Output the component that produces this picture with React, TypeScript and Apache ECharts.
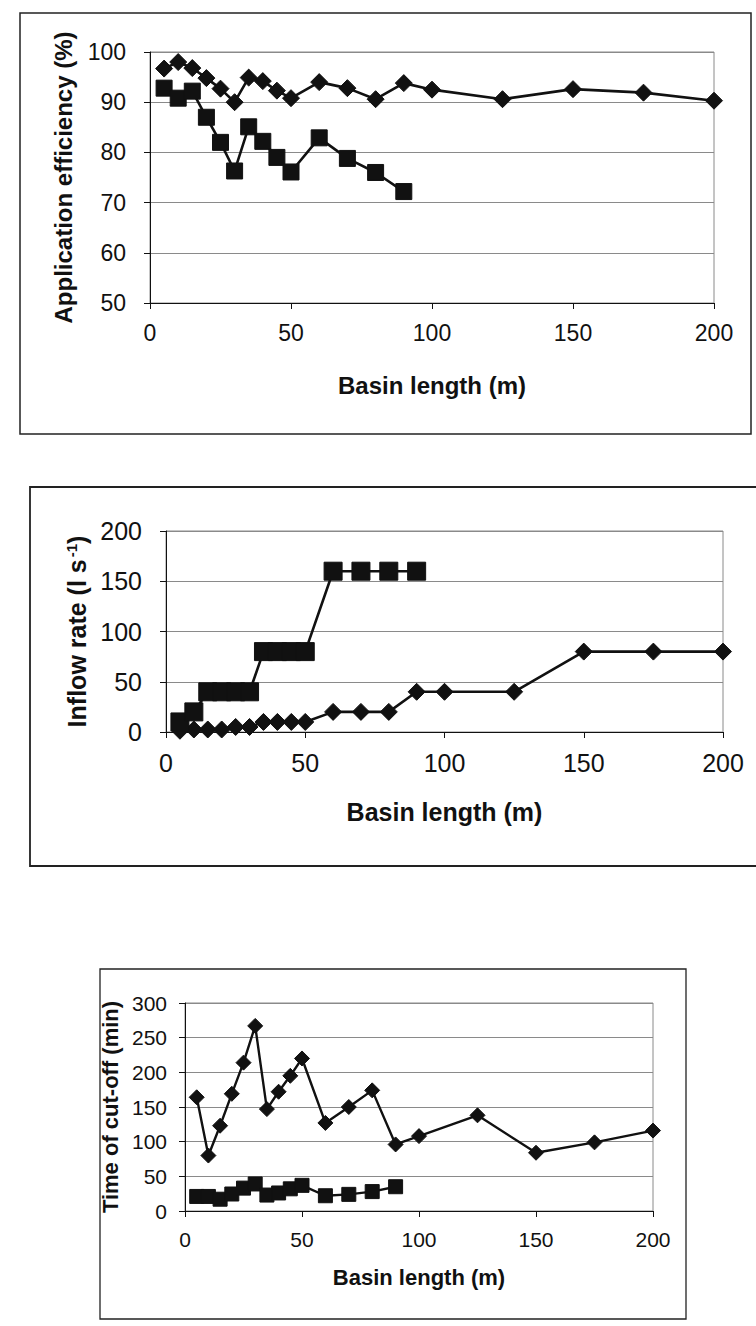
import React, { useEffect, useRef } from "react";
import * as echarts from "echarts";

// Basin lengths (m)
const lengthsLong = [5, 10, 15, 20, 25, 30, 35, 40, 45, 50, 60, 70, 80, 90, 100, 125, 150, 175, 200];
const lengthsShort = [5, 10, 15, 20, 25, 30, 35, 40, 45, 50, 60, 70, 80, 90];

// Panel 1: Application efficiency (%)
const effDiamond = [96.7, 98, 96.8, 94.8, 92.7, 90, 94.9, 94.2, 92.3, 90.8, 94, 92.8, 90.6, 93.8, 92.5, 90.6, 92.6, 91.9, 90.3];
const effSquare = [92.8, 90.8, 92.2, 87, 82, 76.3, 85.1, 82.2, 79, 76.1, 82.9, 78.8, 76, 72.2];

// Panel 2: Inflow rate (l s-1)
const inflowDiamond = [1.25, 2.5, 2.5, 2.5, 5, 5, 10, 10, 10, 10, 20, 20, 20, 40, 40, 40, 80, 80, 80];
const inflowSquare = [10, 20, 40, 40, 40, 40, 80, 80, 80, 80, 160, 160, 160, 160];

// Panel 3: Time of cut-off (min)
const cutoffDiamond = [164, 80, 123, 169, 214, 267, 147, 172, 195, 220, 127, 150, 174, 96, 108, 138, 84, 99, 116];
const cutoffSquare = [21, 21, 17, 24.5, 33, 39, 23, 26, 32, 37, 22, 24, 28, 35];

const xTitle = "Basin length (m)";
const yTitles = ["Application efficiency (%)", "Inflow rate (l s{sup|-1})", "Time of cut-off (min)"];

const FONT = "'Liberation Sans', Arial, sans-serif";
const INK = "#111";
const GRIDC = "#8a8a8a";

function pairs(xs: number[], ys: number[]) {
  return ys.map((y, i) => [xs[i], y]);
}

export default function App() {
  const ref = useRef<HTMLDivElement>(null);

  useEffect(() => {
    if (!ref.current) return;
    const chart = echarts.init(ref.current, null, { renderer: "svg" });

    const grids = [
      { left: 150, top: 52, width: 564, height: 251 },
      { left: 166, top: 531, width: 557, height: 201 },
      { left: 185, top: 1003, width: 468, height: 208 },
    ];
    const tickFont = [23, 25, 21];
    const titleFont = [24, 25, 22];
    const xNameGap = [70, 67, 55];
    const yNameGap = [75, 74, 64];
    const yLabelMargin = [24, 24, 18];
    const yRanges = [
      [50, 100, 10],
      [0, 200, 50],
      [0, 300, 50],
    ];
    const symSize = [
      [17, 16],
      [17, 18],
      [15, 14],
    ];
    const lineW = [2.6, 2.6, 2.4];

    const xAxes = grids.map((_, i) => ({
      type: "value",
      gridIndex: i,
      min: 0,
      max: 200,
      interval: 50,
      name: xTitle,
      nameLocation: "middle",
      nameGap: xNameGap[i],
      nameTextStyle: { fontFamily: FONT, fontWeight: "bold", fontSize: titleFont[i], color: INK },
      axisLine: { show: true, lineStyle: { color: INK, width: 1 } },
      axisTick: { show: true, length: 6, lineStyle: { color: INK } },
      axisLabel: { fontFamily: FONT, fontSize: tickFont[i], color: INK, margin: 18 },
      splitLine: { show: false },
    }));

    const yAxes = grids.map((_, i) => ({
      type: "value",
      gridIndex: i,
      min: yRanges[i][0],
      max: yRanges[i][1],
      interval: yRanges[i][2],
      name: yTitles[i],
      nameLocation: "middle",
      nameRotate: 90,
      nameGap: yNameGap[i],
      nameTextStyle: {
        fontFamily: FONT,
        fontWeight: "bold",
        fontSize: titleFont[i],
        color: INK,
        rich: {
          sup: { fontFamily: FONT, fontWeight: "bold", fontSize: 15, color: INK, verticalAlign: "top", padding: [0, 0, 0, 2] },
        },
      },
      axisLine: { show: true, lineStyle: { color: INK, width: 1 } },
      axisTick: { show: true, length: 6, lineStyle: { color: INK } },
      axisLabel: { fontFamily: FONT, fontSize: tickFont[i], color: INK, margin: yLabelMargin[i] },
      splitLine: { show: true, lineStyle: { color: GRIDC, width: 1 } },
    }));

    const mk = (gi: number, xs: number[], ys: number[], symbol: string, size: number) => ({
      type: "line",
      xAxisIndex: gi,
      yAxisIndex: gi,
      data: pairs(xs, ys),
      symbol,
      symbolSize: size,
      showSymbol: true,
      lineStyle: { color: INK, width: lineW[gi] },
      itemStyle: { color: INK, borderColor: INK },
      emphasis: { disabled: true },
      z: 3,
    });

    const series = [
      mk(0, lengthsLong, effDiamond, "diamond", symSize[0][0]),
      mk(0, lengthsShort, effSquare, "rect", symSize[0][1]),
      mk(1, lengthsLong, inflowDiamond, "diamond", symSize[1][0]),
      mk(1, lengthsShort, inflowSquare, "rect", symSize[1][1]),
      mk(2, lengthsLong, cutoffDiamond, "diamond", symSize[2][0]),
      mk(2, lengthsShort, cutoffSquare, "rect", symSize[2][1]),
    ];

    chart.setOption({
      animation: false,
      backgroundColor: "#fff",
      grid: grids.map((g) => ({ ...g, show: true, borderColor: GRIDC, borderWidth: 1, containLabel: false })),
      xAxis: xAxes,
      yAxis: yAxes,
      series,
      graphic: [
        { type: "rect", shape: { x: 20, y: 13, width: 731, height: 421 }, style: { fill: "none", stroke: "#222", lineWidth: 1.5 }, silent: true },
        { type: "rect", shape: { x: 30, y: 487, width: 760, height: 379 }, style: { fill: "none", stroke: "#222", lineWidth: 1.8 }, silent: true },
        { type: "rect", shape: { x: 100, y: 969, width: 586, height: 350 }, style: { fill: "none", stroke: "#222", lineWidth: 1.3 }, silent: true },
      ],
    });

    return () => chart.dispose();
  }, []);

  return (
    <div
      ref={ref}
      style={{ position: "fixed", left: 0, top: 0, width: 756, height: 1326, background: "#fff" }}
    />
  );
}
